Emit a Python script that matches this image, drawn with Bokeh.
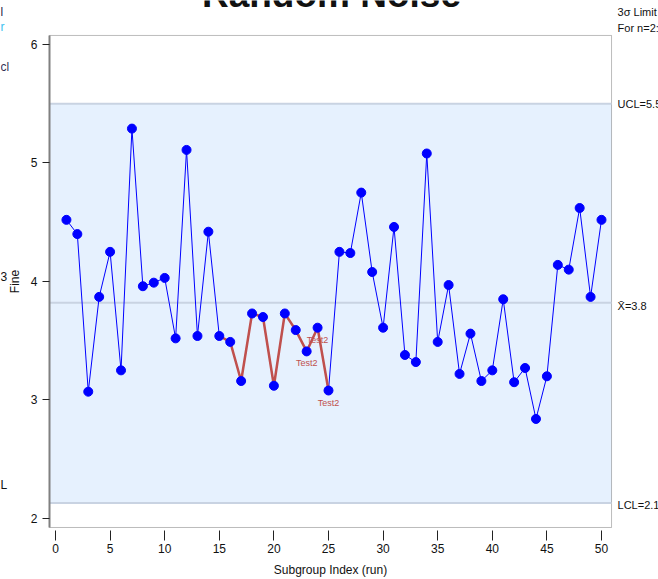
from bokeh.plotting import figure
from bokeh.models import BoxAnnotation, LabelSet, ColumnDataSource, FixedTicker, Range1d
from bokeh.core.properties import value
from bokeh.embed import file_html
from bokeh.resources import INLINE

# ---- data ----
runs = list(range(1, 51))
fines = [4.52, 4.40, 3.07, 3.87, 4.25, 3.25, 5.29, 3.96, 3.99, 4.03,
         3.52, 5.11, 3.54, 4.42, 3.54, 3.49, 3.16, 3.73, 3.70, 3.12,
         3.73, 3.59, 3.41, 3.61, 3.08, 4.25, 4.24, 4.75, 4.08, 3.61,
         4.46, 3.38, 3.32, 5.08, 3.49, 3.97, 3.22, 3.56, 3.16, 3.25,
         3.85, 3.15, 3.27, 2.84, 3.20, 4.14, 4.10, 4.62, 3.87, 4.52]
center = 3.82
ucl = 5.50
lcl = 2.13
rule_runs = list(range(15, 26))          # runs flagged by the run rule (red segment)
test_runs = [23, 24, 25]                 # points labelled "Test2"
test_label = "Test2"
x_ticks = list(range(0, 51, 5))
y_ticks = [2, 3, 4, 5, 6]
title_text = "Random Noise"
limit_texts = ["3σ Limit", "For n=2:", "UCL=5.5", "X\u0304=3.8", "LCL=2.1"]
left_fragments = ["l", "r", "cl", "3", "L"]

FONT = "Liberation Sans"

# visible plotting box (in data units) inside a canvas-wide frame
X0, X1 = -0.55, 50.92
Y0, Y1 = 1.924, 6.076

p = figure(width=658, height=579, output_backend="svg", toolbar_location=None,
           x_range=Range1d(-5.037, 55.22), y_range=Range1d(1.4852, 6.371),
           min_border_left=0, min_border_right=0, min_border_top=0, min_border_bottom=0,
           background_fill_color="white", border_fill_color="white")
p.xgrid.visible = False
p.ygrid.visible = False
p.outline_line_color = None

# control band, plotting box and limit lines
p.add_layout(BoxAnnotation(left=X0, right=X1, bottom=lcl, top=ucl, fill_color="#E6F1FE",
                           fill_alpha=1.0, line_alpha=0, level="underlay"))
p.add_layout(BoxAnnotation(left=X0, right=X1, bottom=Y0, top=Y1, fill_alpha=0,
                           line_color="#222222", line_width=1, level="underlay"))
limits = [ucl, center, lcl]
p.segment(x0=[X0] * 3, y0=limits, x1=[X1] * 3, y1=limits, line_color="#C9D3E2", line_width=2)

# series
p.line(runs, fines, line_color="#0000FF", line_width=1)
rx = [r for r in runs if r in rule_runs]
ry = [fines[r - 1] for r in rx]
p.line(rx, ry, line_color="#C0504D", line_width=2.5)
p.scatter(runs, fines, size=9, marker="circle", fill_color="#0000FF", line_color="#0000FF")

tsrc = ColumnDataSource(dict(x=test_runs, y=[fines[r - 1] for r in test_runs],
                             t=[test_label] * len(test_runs)))
p.add_layout(LabelSet(x="x", y="y", text="t", source=tsrc, text_align="center",
                      text_baseline="middle", y_offset=-12, text_color="#C0504D",
                      text_font=value(FONT), text_font_size="9px"))

# axes, pinned to the plotting box
p.xaxis.ticker = FixedTicker(ticks=x_ticks)
p.yaxis.ticker = FixedTicker(ticks=y_ticks)
p.xaxis.axis_label = "Subgroup Index (run)"
p.yaxis.axis_label = "Fine"
p.xaxis.fixed_location = Y0
p.yaxis.fixed_location = X0
p.xaxis.bounds = (X0, X1)
p.yaxis.bounds = (Y0, Y1)
for ax in (p.xaxis[0], p.yaxis[0]):
    ax.major_label_text_font = FONT
    ax.major_label_text_font_size = "12px"
    ax.major_label_text_color = "#111111"
    ax.axis_label_text_font = FONT
    ax.axis_label_text_font_size = "12px"
    ax.axis_label_text_font_style = "normal"
    ax.axis_label_text_color = "#111111"
    ax.minor_tick_line_color = None
    ax.major_tick_line_color = "#222222"
p.xaxis.axis_line_color = None
p.xaxis.major_tick_in = -3
p.xaxis.major_tick_out = 13
p.xaxis.major_label_standoff = 4
p.xaxis.axis_label_standoff = 6
p.yaxis.axis_line_color = "#808080"
p.yaxis.axis_line_width = 2
p.yaxis.major_tick_in = 0
p.yaxis.major_tick_out = 7
p.yaxis.major_label_standoff = 5
p.yaxis.axis_label_standoff = 6

# title (cropped at the top of the picture)
title_src = ColumnDataSource(dict(x=[25.27], y=[6.32], t=[title_text]))
p.add_layout(LabelSet(x="x", y="y", text="t", source=title_src, text_align="center",
                      text_baseline="alphabetic", text_font=value(FONT),
                      text_font_size="37px", text_font_style=value("bold"),
                      text_color="#111111"))

# right-hand texts
right_src = ColumnDataSource(dict(x=[51.47] * 5,
                                  y=[6.27, 6.135, ucl, center - 0.03, lcl - 0.02],
                                  t=limit_texts))
p.add_layout(LabelSet(x="x", y="y", text="t", source=right_src, text_align="left",
                      text_baseline="middle", text_font=value(FONT), text_font_size="11px",
                      text_color="#111111"))

# cropped fragments on the left edge
left_src = ColumnDataSource(dict(x=[-5.03] * 5, y=[6.27, 6.15, 5.81, 4.04, 2.28],
                                 t=left_fragments,
                                 c=["#222244", "#40C0F0", "#333355", "#111111", "#111111"]))
p.add_layout(LabelSet(x="x", y="y", text="t", source=left_src, text_align="left",
                      text_baseline="middle", text_font=value(FONT), text_font_size="12px",
                      text_color="c"))

open("out.html", "w").write(file_html(p, INLINE))
